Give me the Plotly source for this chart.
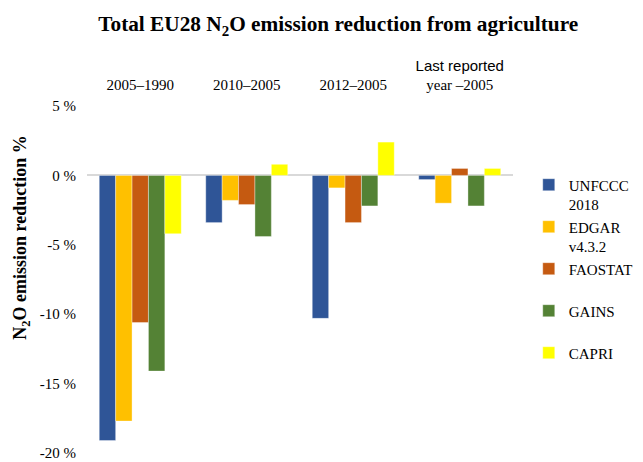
import plotly.graph_objects as go

categories = ["2005–1990", "2010–2005", "2012–2005", "Last reported year –2005"]
category_labels = [
    "2005–1990",
    "2010–2005",
    "2012–2005",
    "<span style='font-family:Liberation Sans, Arial, sans-serif'>Last reported</span><br>year –2005",
]
series_names = ["UNFCCC<br>2018", "EDGAR<br>v4.3.2", "FAOSTAT<br>&nbsp;", "GAINS<br>&nbsp;", "CAPRI<br>&nbsp;"]
unfccc = [-19.1, -3.4, -10.3, -0.3]
edgar = [-17.7, -1.8, -0.9, -2.0]
faostat = [-10.6, -2.1, -3.4, 0.5]
gains = [-14.1, -4.4, -2.2, -2.2]
capri = [-4.2, 0.8, 2.4, 0.5]
series_values = [unfccc, edgar, faostat, gains, capri]
colors = ["#2F5597", "#FFC000", "#C55A11", "#548235", "#FFFF00"]

y_tickvals = [5, 0, -5, -10, -15, -20]
y_ticktext = ["5 %", "0 %", "-5 %", "-10 %", "-15 %", "-20 %"]

serif = "Liberation Serif, Times New Roman, serif"

fig = go.Figure()
for name, vals, col in zip(series_names, series_values, colors):
    fig.add_trace(go.Bar(
        x=categories, y=vals, name=name,
        marker=dict(color=col, line=dict(width=0.6, color="rgba(255,255,255,0.6)")),
    ))

fig.update_layout(
    width=643, height=462,
    margin=dict(l=87, r=130, t=106, b=9, autoexpand=False),
    paper_bgcolor="white", plot_bgcolor="white",
    barmode="group", bargap=0.23, bargroupgap=0,
    font=dict(family=serif, size=15, color="#000000"),
    title=dict(
        text="<b>Total EU28 N<sub>2</sub>O emission reduction from agriculture</b>",
        x=0.526, xanchor="center", y=0.948, yanchor="middle",
        font=dict(family=serif, size=21.3, color="#000000"),
    ),
    legend=dict(
        x=1.037, xanchor="left", y=0.82, yanchor="top",
        font=dict(family=serif, size=15, color="#000000"),
        valign="top", itemwidth=30, tracegroupgap=0,
        bgcolor="rgba(0,0,0,0)",
    ),
    showlegend=True,
)
fig.update_xaxes(
    side="top", showline=False, showgrid=False, zeroline=False, ticks="",
    tickmode="array", tickvals=categories, ticktext=category_labels,
    tickfont=dict(family=serif, size=15, color="#000000"),
    ticklabelstandoff=12,
)
fig.update_yaxes(
    range=[-20, 5], tickmode="array", tickvals=y_tickvals, ticktext=y_ticktext,
    showgrid=False, zeroline=True, zerolinecolor="#d9d9d9", zerolinewidth=1.5,
    showline=False, ticks="", ticklabelstandoff=10,
    tickfont=dict(family=serif, size=15, color="#000000"),
)
fig.add_annotation(
    text="<b>N<sub>2</sub>O emission reduction %</b>",
    xref="paper", yref="paper", x=-0.153, y=0.62,
    xanchor="center", yanchor="middle", textangle=-90, showarrow=False,
    font=dict(family=serif, size=18, color="#000000"),
)

fig.write_html(
    "out.html",
    config={"displayModeBar": False},
    post_script="document.body.style.margin='0';document.body.style.overflow='hidden';",
)
